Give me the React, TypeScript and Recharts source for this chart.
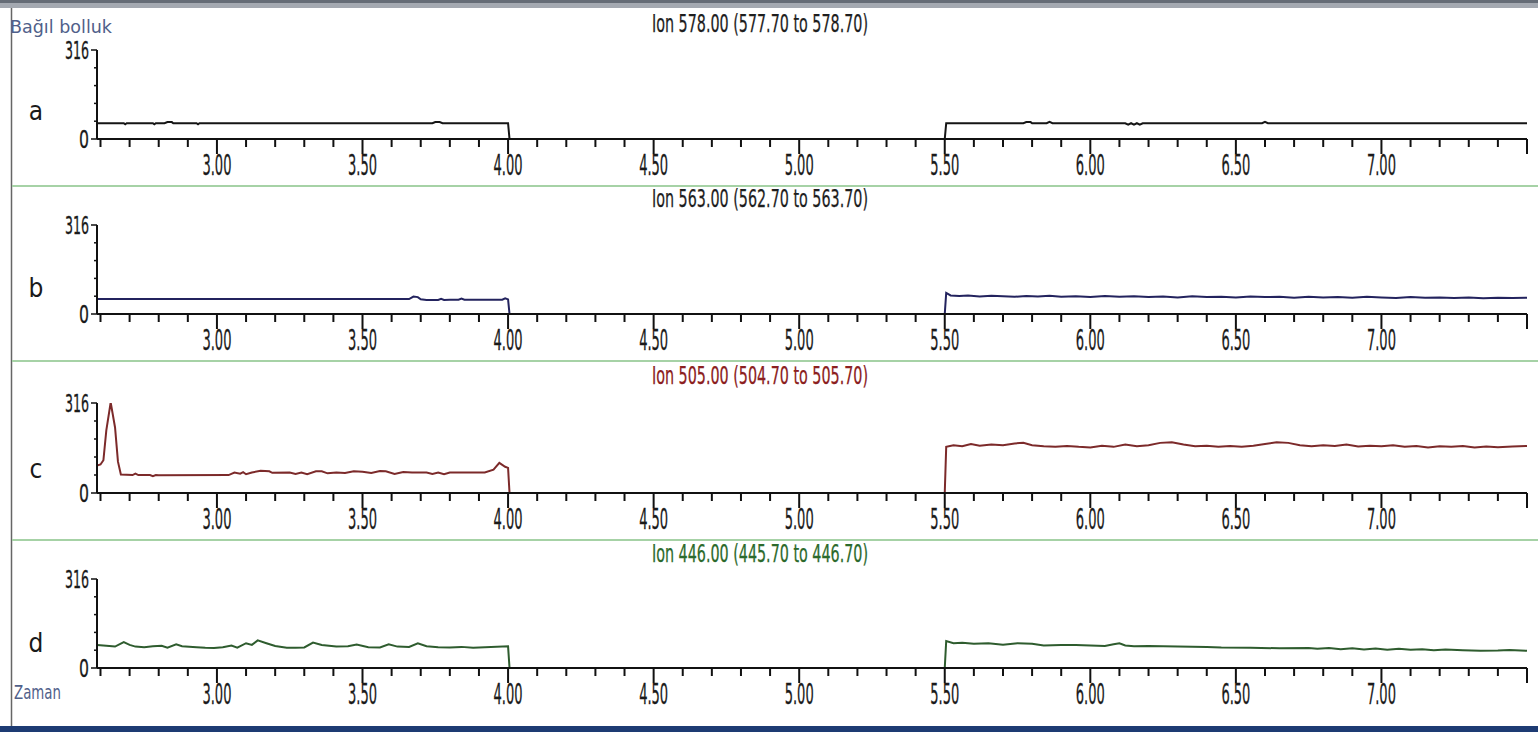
import { LineChart, Line, XAxis, YAxis } from "recharts"

// retention time ticks (minutes), one every 0.1
const xTicks = [
  2.6, 2.7, 2.8, 2.9, 3.0, 3.1, 3.2, 3.3, 3.4, 3.5, 3.6, 3.7, 3.8, 3.9, 4.0, 4.1, 4.2,
  4.3, 4.4, 4.5, 4.6, 4.7, 4.8, 4.9, 5.0, 5.1, 5.2, 5.3, 5.4, 5.5, 5.6, 5.7, 5.8, 5.9,
  6.0, 6.1, 6.2, 6.3, 6.4, 6.5, 6.6, 6.7, 6.8, 6.9, 7.0, 7.1, 7.2, 7.3, 7.4, 7.5,
]
const yTicks = [0, 63.2, 126.4, 189.6, 252.8, 316]

// a: Ion 578.00
const aTime = [
  2.588, 2.68, 2.685, 2.69, 2.78, 2.785, 2.79, 2.82, 2.83, 2.845, 2.85, 2.93, 2.935, 2.94,
  3.74, 3.75, 3.765, 3.775, 4.0, 4.005, 5.5, 5.505, 5.77, 5.78, 5.795, 5.8, 5.85, 5.86, 5.87,
  6.12, 6.13, 6.14, 6.15, 6.16, 6.17, 6.18, 6.59, 6.6, 6.61, 7.5,
]
const aVals = [
  56, 56, 52, 56, 56, 52, 56, 56, 60, 60, 56, 56, 52, 56,
  56, 60, 60, 56, 56, 0, 0, 56, 56, 60, 60, 56, 56, 61, 56,
  56, 51, 56, 51, 56, 51, 56, 56, 61, 56, 56,
]

// b: Ion 563.00
const bTime = [
  2.588, 3.66, 3.675, 3.69, 3.7, 3.72, 3.76, 3.77, 3.78, 3.8, 3.83, 3.84, 3.85, 3.9, 3.98, 3.99,
  4.0, 4.005, 5.5, 5.505, 5.52, 5.55, 5.58, 5.62, 5.66, 5.7, 5.74, 5.78, 5.82, 5.86, 5.9, 5.95,
  6.0, 6.05, 6.1, 6.15, 6.2, 6.25, 6.3, 6.35, 6.4, 6.45, 6.5, 6.55, 6.6, 6.65, 6.7, 6.75, 6.8,
  6.85, 6.9, 6.95, 7.0, 7.05, 7.1, 7.15, 7.2, 7.25, 7.3, 7.35, 7.4, 7.45, 7.5,
]
const bVals = [
  53, 53, 62, 60, 52, 50, 50, 54, 50, 51, 51, 55, 51, 51, 51, 56,
  52, 0, 0, 75, 66, 64, 66, 62, 65, 63, 61, 64, 62, 65, 61, 63,
  60, 64, 61, 63, 60, 62, 59, 63, 60, 61, 59, 62, 60, 61, 58, 61, 59,
  60, 58, 61, 59, 57, 60, 58, 59, 57, 59, 56, 58, 57, 58,
]

// c: Ion 505.00
const cTime = [
  2.588, 2.6, 2.61, 2.62, 2.635, 2.65, 2.66, 2.67, 2.71, 2.72, 2.73, 2.77, 2.78, 2.79, 2.8,
  3.04, 3.06, 3.08, 3.09, 3.1, 3.12, 3.15, 3.18, 3.19, 3.25, 3.27, 3.29, 3.31, 3.34, 3.36,
  3.38, 3.41, 3.44, 3.47, 3.5, 3.53, 3.56, 3.58, 3.61, 3.64, 3.67, 3.72, 3.74, 3.76, 3.78,
  3.8, 3.92, 3.95, 3.97, 3.99, 4.0, 4.005, 5.5, 5.505, 5.53, 5.56, 5.59, 5.62, 5.66, 5.7,
  5.74, 5.77, 5.8, 5.84, 5.88, 5.92, 5.96, 6.0, 6.04, 6.08, 6.12, 6.16, 6.2, 6.24, 6.28,
  6.32, 6.36, 6.4, 6.44, 6.48, 6.52, 6.56, 6.6, 6.64, 6.68, 6.72, 6.76, 6.8, 6.84, 6.88,
  6.92, 6.96, 7.0, 7.04, 7.08, 7.12, 7.16, 7.2, 7.24, 7.28, 7.32, 7.36, 7.4, 7.45, 7.5,
]
const cVals = [
  96, 100, 115, 220, 318, 230, 110, 65, 63, 68, 63, 63, 59, 63, 62,
  63, 72, 68, 73, 66, 72, 78, 76, 71, 72, 67, 72, 66, 76, 76,
  69, 72, 70, 76, 75, 70, 77, 76, 67, 74, 72, 72, 67, 72, 66,
  72, 72, 82, 106, 92, 88, 0, 0, 162, 168, 164, 172, 166, 170, 168,
  174, 176, 168, 164, 162, 165, 162, 160, 166, 162, 170, 164, 168, 176, 178,
  170, 164, 166, 162, 165, 162, 166, 172, 178, 176, 168, 164, 168, 165, 170,
  163, 166, 164, 168, 162, 165, 160, 164, 162, 165, 160, 163, 161, 163, 165,
]

// d: Ion 446.00
const dTime = [
  2.588, 2.62, 2.65, 2.68, 2.7, 2.72, 2.75, 2.78, 2.81, 2.83, 2.86, 2.88, 2.93, 2.96, 2.99,
  3.02, 3.05, 3.07, 3.1, 3.12, 3.14, 3.17, 3.2, 3.24, 3.27, 3.3, 3.33, 3.36, 3.41, 3.45, 3.48,
  3.52, 3.56, 3.59, 3.62, 3.66, 3.69, 3.72, 3.76, 3.8, 3.84, 3.88, 4.0, 4.005, 5.5, 5.505,
  5.53, 5.56, 5.6, 5.65, 5.7, 5.75, 5.8, 5.84, 5.9, 5.95, 6.0, 6.05, 6.08, 6.1, 6.12, 6.15,
  6.2, 6.3, 6.4, 6.45, 6.55, 6.65, 6.75, 6.78, 6.82, 6.86, 6.9, 6.94, 6.98, 7.02, 7.06, 7.1,
  7.14, 7.18, 7.22, 7.28, 7.34, 7.4, 7.44, 7.5,
]
const dVals = [
  82, 79, 76, 92, 82, 76, 74, 77, 79, 72, 84, 77, 74, 72, 71,
  74, 80, 72, 88, 82, 98, 88, 78, 72, 72, 73, 90, 82, 76, 77, 83,
  74, 73, 84, 76, 75, 88, 77, 74, 73, 75, 72, 77, 0, 0, 96,
  88, 90, 86, 88, 83, 88, 86, 80, 82, 82, 80, 78, 84, 88, 80, 77,
  78, 76, 75, 73, 72, 70, 71, 68, 71, 67, 70, 66, 69, 65, 68, 65,
  67, 63, 66, 63, 61, 62, 64, 61,
]

const narrow = "'Liberation Sans Narrow', 'DejaVu Sans Condensed', sans-serif"

const isMajor = (v: number) => Math.abs(v * 2 - Math.round(v * 2)) < 1e-6

function TimeTick({ x, y, payload }: any) {
  const v = payload.value as number
  const major = isMajor(v)
  return (
    <g>
      <line x1={x} x2={x} y1={y} y2={y + (major ? 15 : 8)} stroke="#111" strokeWidth={2} />
      {major && v < 7.45 && (
        <text
          x={x}
          y={y + 36}
          textAnchor="middle"
          fontSize={28}
          textLength={29}
          lengthAdjust="spacingAndGlyphs"
          fontFamily={narrow}
          fill="#1a1a1a"
          stroke="#1a1a1a"
          strokeWidth={0.3}
        >
          {v.toFixed(2)}
        </text>
      )}
    </g>
  )
}

function AbundTick({ x, y, payload }: any) {
  const v = payload.value as number
  const end = v === 0 || v === 316
  const label = v === 0 ? "0" : "316"
  return (
    <g>
      <line x1={x} x2={x - (end ? 6 : 3)} y1={y} y2={y} stroke="#111" strokeWidth={1.5} />
      {end && (
        <text
          x={x - 8}
          y={y + 9}
          textAnchor="end"
          fontSize={25}
          textLength={v === 0 ? 10 : 24}
          lengthAdjust="spacingAndGlyphs"
          fontFamily={narrow}
          fill="#1a1a1a"
          stroke="#1a1a1a"
          strokeWidth={0.3}
        >
          {label}
        </text>
      )}
    </g>
  )
}

type PanelProps = {
  time: number[]
  vals: number[]
  color: string
  top: number // y of the 316 level
  bottom: number // y of the zero level
}

function Panel({ time, vals, color, top, bottom }: PanelProps) {
  const data = time.map((t, i) => ({ t, v: vals[i] }))
  const padTop = 40
  const padBottom = 52
  const h = bottom - top + padTop + padBottom
  return (
    <div style={{ position: "absolute", left: 0, top: top - padTop }}>
      <LineChart width={1538} height={h} data={data} margin={{ top: padTop, right: 11, left: 57, bottom: 0 }}>
        <XAxis
          dataKey="t"
          type="number"
          domain={[2.588, 7.5]}
          allowDataOverflow
          ticks={xTicks}
          interval={0}
          height={padBottom}
          tickSize={0}
          tickMargin={0}
          tick={<TimeTick />}
          axisLine={{ stroke: "#111", strokeWidth: 2 }}
        />
        <YAxis
          type="number"
          domain={[0, 316]}
          allowDataOverflow
          ticks={yTicks}
          interval={0}
          width={40}
          tickSize={0}
          tickMargin={0}
          tick={<AbundTick />}
          axisLine={{ stroke: "#111", strokeWidth: 2 }}
        />
        <Line
          type="linear"
          dataKey="v"
          stroke={color}
          strokeWidth={2}
          dot={false}
          isAnimationActive={false}
        />
      </LineChart>
    </div>
  )
}

const titles = [
  { text: "Ion 578.00 (577.70 to 578.70)", y: 32, color: "#1e1e1e" },
  { text: "Ion 563.00 (562.70 to 563.70)", y: 207, color: "#1e1e1e" },
  { text: "Ion 505.00 (504.70 to 505.70)", y: 384, color: "#8b2020" },
  { text: "Ion 446.00 (445.70 to 446.70)", y: 562, color: "#2c6a2c" },
]
const letters = [
  { text: "a", y: 120 },
  { text: "b", y: 297 },
  { text: "c", y: 478 },
  { text: "d", y: 652 },
]

export default function App() {
  return (
    <div style={{ position: "relative", width: 1538, height: 732, background: "#fff", overflow: "hidden" }}>
      <style>{"body{margin:0}"}</style>
      <Panel time={aTime} vals={aVals} color="#151515" top={50} bottom={139} />
      <Panel time={bTime} vals={bVals} color="#23235e" top={225} bottom={314} />
      <Panel time={cTime} vals={cVals} color="#7c2a2a" top={403} bottom={493} />
      <Panel time={dTime} vals={dVals} color="#2e5c2e" top={579} bottom={668} />
      <svg width={1538} height={732} style={{ position: "absolute", left: 0, top: 0, pointerEvents: "none" }}>
        <rect x={0} y={0} width={1538} height={3} fill="#656c76" />
        <rect x={0} y={3} width={1538} height={5} fill="#a4a9b1" />
        <line x1={11.5} x2={11.5} y1={8} y2={726} stroke="#666" strokeWidth={1.5} />
        {[186, 361, 540].map((y) => (
          <line key={y} x1={12} x2={1538} y1={y} y2={y} stroke="#a6d2a6" strokeWidth={2} />
        ))}
        <rect x={0} y={726} width={1538} height={6} fill="#1d3b73" />
        {titles.map((t) => (
          <text
            key={t.text}
            x={760}
            y={t.y}
            textAnchor="middle"
            fontSize={24}
            textLength={216}
            lengthAdjust="spacingAndGlyphs"
            fontFamily={narrow}
            fill={t.color}
            stroke={t.color}
            strokeWidth={0.25}
          >
            {t.text}
          </text>
        ))}
        {letters.map((l) => (
          <text key={l.text} x={36} y={l.y} textAnchor="middle" fontSize={26} fontFamily={narrow} fill="#1a1a1a">
            {l.text}
          </text>
        ))}
        <text x={10} y={33} fontSize={17} textLength={102} lengthAdjust="spacingAndGlyphs" fontFamily="'DejaVu Sans', sans-serif" fill="#50608a">
          Bağıl bolluk
        </text>
        <text x={14} y={699} fontSize={19} textLength={47} lengthAdjust="spacingAndGlyphs" fontFamily="'DejaVu Sans', sans-serif" fill="#50608a">
          Zaman
        </text>
      </svg>
    </div>
  )
}
